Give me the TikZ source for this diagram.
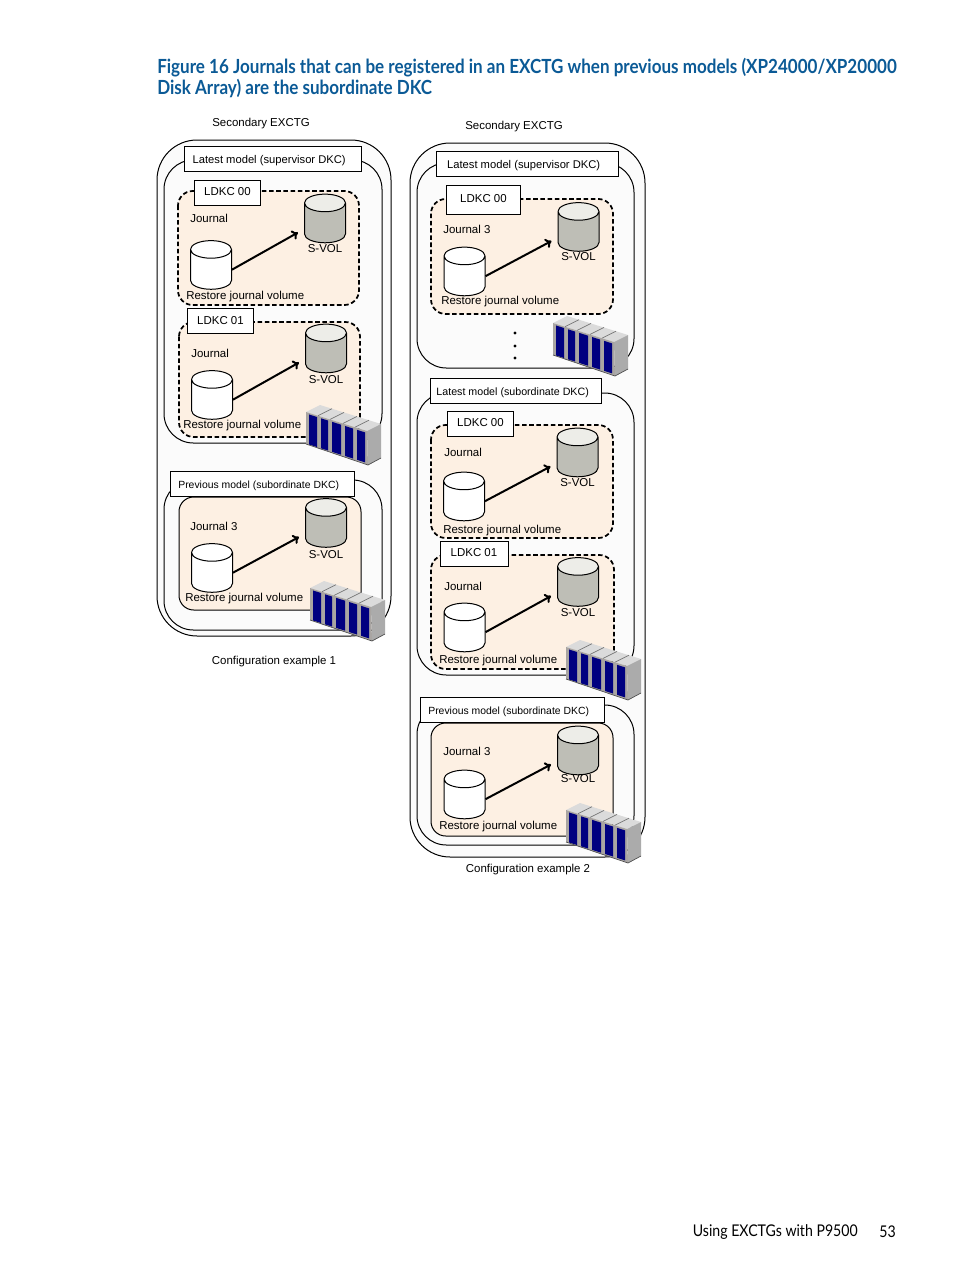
\documentclass[tikz,border=0pt]{standalone}
\usepackage{fontspec}
\setmainfont{Liberation Sans}
\newfontfamily\headfont[FakeStretch=0.875]{Lato}
\usetikzlibrary{arrows.meta, shapes.geometric}
\definecolor{headblue}{HTML}{0B5A96}
\definecolor{panelfill}{HTML}{FDF0E3}
\definecolor{svolgray}{HTML}{BEBEB6}
\definecolor{svoltop}{HTML}{EDEDE8}
\definecolor{groupfill}{HTML}{FBFBFB}
\definecolor{arrayblue}{HTML}{000080}
\tikzset{
    vol/.style={cylinder, shape border rotate=90, shape aspect=0.44, draw, line width=0.75pt, yshift=-6.75pt,
        cylinder uses custom fill, minimum width=30.75pt, minimum height=36.5pt, inner xsep=15pt, inner ysep=0.5pt},
    rvol/.style={vol, cylinder body fill=white, cylinder end fill=white},
    svol/.style={vol, cylinder body fill=svolgray, cylinder end fill=svoltop},
    txt/.style={inner sep=0pt, yshift=-1pt, font=\fontsize{8.6}{10}\selectfont},
    labelbox/.style={draw, fill=white, line width=0.75pt, inner sep=0pt, text height=8.5pt, text depth=1pt,
        execute at end node={\hspace{5pt}}, font=\fontsize{8}{10}\selectfont},
    ldkcbox/.style={draw, fill=white, line width=0.75pt, inner sep=0pt, text height=6pt, text depth=1pt,
        font=\fontsize{8.6}{10}\selectfont},
    outergroup/.style={draw, fill=groupfill, line width=0.75pt, rounded corners=30pt},
    innergroup/.style={draw, fill=groupfill, line width=0.75pt, rounded corners=22pt},
    panel/.style={draw, fill=panelfill, line width=0.75pt, rounded corners=11pt},
    dashedpanel/.style={panel, line width=1.3pt, dash pattern=on 3.4pt off 2pt},
}
% name, journal text, journal x,y, rvol x,y, svol x,y, restore x,y, s-vol label y
\newcommand{\volpair}[7]{
    \node[rvol] (#1rv) at (#4) {};
    \node[svol] (#1sv) at (#5) {};
    \node[txt, anchor=west] (#1j) at (#3) {#2};
    \node[txt] (#1s) at (#1sv.center |- 0,#7) {S-VOL};
    \node[txt, anchor=west] (#1r) at (#6) {Restore journal volume};
    \draw[-{To[length=4.5pt,width=7.5pt]}, line width=1.5pt] ([yshift=3.25pt]#1rv.east) -- ([xshift=-4.5pt,yshift=-3.75pt]#1sv.west);
}
\newcommand{\diskarray}[2]{
    \begin{scope}[shift={(#1,#2)}]
        \fill[black!14] (0,0) -- (14,-7) -- (75,12) -- (61,19) -- cycle;
        \fill[black!33] (61,19) -- (75,12) -- (75,46) -- (62,53) -- cycle;
        \fill[brown!15!black!38] (0,0) -- (61,19) -- (62,53) -- (0,32) -- cycle;
        \foreach \dx in {12,24,37,49}
            \draw[black!55, line width=0.5pt] (\dx,{0.31*\dx}) -- ++(14,-7);
        \foreach \dx/\dw in {3/8,15/7,26/9,39/8,51/8}
            \fill[arrayblue] (\dx,{0.32*\dx+1.5}) -- ++(\dw,{0.32*\dw}) -- ++(0,30) -- ++(-\dw,{-0.32*\dw}) -- cycle;
        \draw[black!70, line width=0.5pt] (0,32) -- (62,53) -- (75,46);
    \end{scope}
}
\begin{document}
\begin{tikzpicture}[x=0.75pt, y=-0.75pt]
    \useasboundingbox (0,0) rectangle (954,1271);

    \node[anchor=west, inner sep=0pt, text=headblue, font=\headfont\bfseries\fontsize{14.6}{17}\selectfont] (head1) at (157,67.5)
        {Figure 16 Journals that can be registered in an EXCTG when previous models (XP24000/XP20000};
    \node[anchor=west, inner sep=0pt, text=headblue, font=\headfont\bfseries\fontsize{14.6}{17}\selectfont] (head2) at (157,88)
        {Disk Array) are the subordinate DKC};

    % configuration example 1
    \node[txt] (sec1) at (261,122) {Secondary EXCTG};
    \draw[outergroup] (157,140) rectangle (391,636);
    \draw[innergroup] (164,160) rectangle (382,443);
    \draw[innergroup] (164,480) rectangle (382,630);
    \node[labelbox, minimum width=132.75pt, minimum height=18.75pt, font=\fontsize{8.4}{10}\selectfont] (latest1) at (272.5,158.5) {Latest model (supervisor DKC)};

    \draw[dashedpanel] (178,191) rectangle (359,305);
    \node[ldkcbox, minimum width=50pt, minimum height=18.75pt] (ldkc1a) at (227.5,192.5) {LDKC 00};
    \volpair{a}{Journal}{190,217}{211,265}{325,218.5}{186,295}{247}

    \draw[dashedpanel] (179,322) rectangle (360,437);
    \node[ldkcbox, minimum width=50pt, minimum height=18.75pt] (ldkc1b) at (220.5,321) {LDKC 01};
    \volpair{b}{Journal}{191,352}{212,395}{326,348.5}{183,424}{378}
    \diskarray{306}{412}

    \draw[panel] (179,497) rectangle (361,610);
    \node[labelbox, minimum width=138pt, minimum height=18.75pt, font=\fontsize{7.8}{10}\selectfont] (prev1) at (262,483.5) {Previous model (subordinate DKC)};
    \volpair{c}{Journal 3}{190,525}{212,568}{326,523}{185,597}{553}
    \diskarray{310}{588}
    \node[txt] (conf1) at (274,660) {Configuration example 1};

    % configuration example 2
    \node[txt] (sec2) at (514,125) {Secondary EXCTG};
    \draw[outergroup] (410,143) rectangle (645,857);
    \draw[innergroup] (417,163) rectangle (634,368);
    \node[labelbox, minimum width=136.5pt, minimum height=18.75pt, font=\fontsize{8.4}{10}\selectfont] (latest2) at (527,163.5) {Latest model (supervisor DKC)};
    \draw[dashedpanel] (431,199) rectangle (613,314);
    \node[ldkcbox, minimum width=56pt, minimum height=21.75pt] (ldkc2a) at (483.5,199.5) {LDKC 00};
    \volpair{d}{Journal 3}{443,228}{464.5,271.5}{578.5,227}{441,300}{255}
    \node[inner sep=0.9pt, circle, fill] (dot1) at (515,333) {};
    \node[inner sep=0.9pt, circle, fill] (dot2) at (515,346) {};
    \node[inner sep=0.9pt, circle, fill] (dot3) at (515,358) {};
    \diskarray{553}{323}

    \draw[innergroup] (417,393) rectangle (634,675);
    \node[labelbox, minimum width=128.25pt, minimum height=18.75pt] (latest3) at (516,390.5) {Latest model (subordinate DKC)};
    \draw[dashedpanel] (431,425) rectangle (613,538);
    \node[ldkcbox, minimum width=49.5pt, minimum height=18.75pt] (ldkc2b) at (480.5,423.5) {LDKC 00};
    \volpair{e}{Journal}{444,451}{464,496.5}{577.5,452.5}{443,529}{481}
    \draw[dashedpanel] (431,555) rectangle (614,669);
    \node[ldkcbox, minimum width=51pt, minimum height=18.75pt] (ldkc2c) at (474,553.5) {LDKC 01};
    \volpair{f}{Journal}{444,585}{464.5,627.5}{578,582}{439,659}{611}
    \diskarray{566}{647}

    \draw[innergroup] (417,705) rectangle (634,845);
    \draw[panel] (431,723) rectangle (613,836);
    \node[labelbox, minimum width=138pt, minimum height=18.75pt, font=\fontsize{7.8}{10}\selectfont] (prev2) at (512,709.5) {Previous model (subordinate DKC)};
    \volpair{g}{Journal 3}{443,750}{464.5,794.5}{578,750.5}{439,825}{777}
    \diskarray{566}{810}
    \node[txt] (conf2) at (528,868) {Configuration example 2};

    % page footer
    \node[anchor=east, inner sep=0pt, font=\headfont\fontsize{12.1}{14}\selectfont] (foot) at (858,1232) {Using EXCTGs with P9500};
    \node[anchor=east, inner sep=0pt, font=\headfont\fontsize{12.1}{14}\selectfont] (pageno) at (896,1232) {53};
\end{tikzpicture}
\end{document}
